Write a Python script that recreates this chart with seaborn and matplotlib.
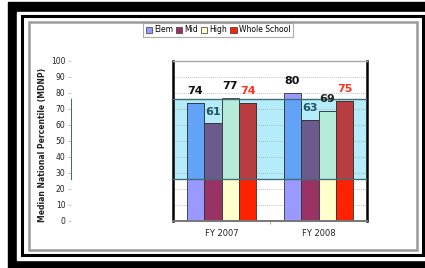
import pandas as pd
import matplotlib.pyplot as plt
import seaborn as sns
from matplotlib.patches import Rectangle, Patch

# data
years = ['FY 2007', 'FY 2008']
groups = ['Elem', 'Mid', 'High', 'Whole School']
elem = [74, 80]
mid = [61, 63]
high = [77, 69]
whole = [74, 75]
band_low, band_high = 26, 76

base_colors = ['#9999ff', '#993366', '#ffffcc', '#ff2200']
band_colors = ['#62a2f7', '#6b5b8c', '#b5ecd9', '#b83c40']
label_colors = [['#111111', '#111111'], ['#1d5566', '#1d5566'],
                ['#111111', '#222222'], ['#ff3322', '#ff3322']]

df = pd.DataFrame({
    'year': years * 4,
    'group': [g for g in groups for _ in years],
    'value': elem + mid + high + whole,
})

W, H = 425, 268
fig = plt.figure(figsize=(W / 100, H / 100), dpi=100)
fig.patch.set_facecolor('white')


def box(x0, y0, x1, y1):
    return (x0 / W, 1 - y1 / H), (x1 - x0) / W, (y1 - y0) / H


# page frames (kept behind the axes)
xy, w, h = box(8, 2, 430, 275)
fig.add_artist(Rectangle(xy, w, h, transform=fig.transFigure, color='black', zorder=-5))
xy, w, h = box(17, 12, 430, 260)
fig.add_artist(Rectangle(xy, w, h, transform=fig.transFigure, color='white', zorder=-4))
xy, w, h = box(21.5, 15.5, 422.5, 255)
fig.add_artist(Rectangle(xy, w, h, transform=fig.transFigure, fill=False,
                         edgecolor='black', lw=2.2, zorder=-3))
xy, w, h = box(28.5, 21.5, 416.5, 249.5)
fig.add_artist(Rectangle(xy, w, h, transform=fig.transFigure, fill=False,
                         edgecolor='#9a9a9a', lw=1.8, zorder=-3))

# main plot area
xy, w, h = box(173, 61, 367, 221)
ax = fig.add_axes([xy[0], xy[1], w, h])
ax.set_facecolor('white')
ax.axhspan(band_low, band_high, color='#b5ecfa', zorder=0.5, lw=0)
for y in range(10, 100, 10):
    ax.axhline(y, color='#aaaaaa', lw=0.6, ls=(0, (1, 1.5)), zorder=0.8)

sns.barplot(data=df, x='year', y='value', hue='group', palette=base_colors,
            width=0.72, saturation=1, edgecolor='#333333', linewidth=0.6,
            legend=False, ax=ax, zorder=2)
sns.barplot(data=df, x='year', y='value', hue='group', palette=band_colors,
            width=0.72, saturation=1, edgecolor='#333333', linewidth=0.6,
            legend=False, ax=ax, zorder=3)

clip = Rectangle((-1, band_low), 3, band_high - band_low, transform=ax.transData)
for cont in ax.containers[4:]:
    for p in cont:
        p.set_clip_path(clip)

for lim in (band_low, band_high):
    ax.axhline(lim, color='#3f6c76', lw=1.0, zorder=4)

for i, cont in enumerate(ax.containers[:4]):
    for j, p in enumerate(cont):
        ax.annotate(str(int(p.get_height())),
                    (p.get_x() + p.get_width() / 2, p.get_height()),
                    xytext=(0, 8.5), textcoords='offset points',
                    ha='center', va='center', fontsize=8, fontweight='bold',
                    color=label_colors[i][j], zorder=5)

ax.set_xlim(-0.5, 1.5)
ax.set_ylim(0, 100)
ax.set_xlabel('')
ax.set_ylabel('')
ax.tick_params(axis='y', left=False, labelleft=False)
ax.tick_params(axis='x', length=0, labelsize=6, pad=6, colors='#222222')
ax.set_xticks([0.5], minor=True)
ax.tick_params(axis='x', which='minor', length=2, color='#999999')
for s in ('left', 'right'):
    ax.spines[s].set_color('black')
    ax.spines[s].set_linewidth(1.8)
ax.spines['top'].set_color('#aaaaaa')
ax.spines['top'].set_linewidth(1.0)
ax.spines['bottom'].set_color('#777777')
ax.spines['bottom'].set_linewidth(1.4)

# detached value axis on the left
xy, w, h = box(71, 61, 72, 221)
tax = fig.add_axes([xy[0], xy[1], w, h])
tax.set_ylim(0, 100)
tax.set_xlim(0, 1)
tax.set_yticks(range(0, 101, 10))
tax.set_xticks([])
for s in tax.spines.values():
    s.set_visible(False)
tax.patch.set_alpha(0)
tax.tick_params(axis='y', length=2, width=0.6, color='#bbbbbb',
                labelsize=5.5, labelcolor='#222222', pad=2)
tax.axvline(0, ymin=band_low / 100, ymax=band_high / 100, color='#3f6c76', lw=1.0)

fig.text(43 / W, 1 - 145 / H, 'Median National Percentile (MDNP)', rotation=90,
         ha='center', va='center', fontsize=5.5, fontweight='bold', color='#222222')

handles = [Patch(facecolor=c, edgecolor='#333333', lw=0.5) for c in base_colors]
leg = fig.legend(handles, groups, loc='center', bbox_to_anchor=(218 / W, 1 - 30 / H),
                 ncol=4, fontsize=5.5, frameon=True, fancybox=False,
                 handlelength=0.8, handleheight=0.8, handletextpad=0.3,
                 columnspacing=0.4, borderpad=0.35)
leg.get_frame().set_edgecolor('#999999')
leg.get_frame().set_linewidth(0.8)

fig.savefig('out.png', dpi=100)
